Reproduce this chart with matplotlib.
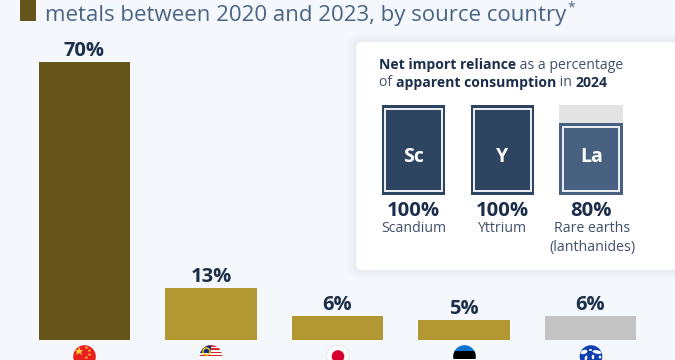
import matplotlib
matplotlib.use("Agg")
import matplotlib.pyplot as plt
from matplotlib.patches import Rectangle, FancyBboxPatch, Circle, Ellipse

plt.rcParams["font.family"] = "Open Sans"

values = [70, 13, 6, 5, 6]
bar_colors = ["#66551b", "#b29832", "#b29832", "#b29832", "#c3c3c3"]
metal_symbols = ["Sc", "Y", "La"]
metal_shares = [100, 100, 80]
metal_names = ["Scandium", "Yttrium", "Rare earths\n(lanthanides)"]
metal_colors = ["#2d4560", "#2d4560", "#486180"]

BG = "#f4f7fb"
NAVY = "#1b2e4a"
GREY = "#3f5068"
W, H = 675, 360
fig = plt.figure(figsize=(6.75, 3.6), dpi=100, facecolor=BG)

ov = fig.add_axes([0, 0, 1, 1], zorder=3)
ov.set_xlim(0, W); ov.set_ylim(H, 0); ov.axis("off")

# bars
ax = fig.add_axes([0, 20 / H, 1, 1 - 20 / H], zorder=1)
ax.set_facecolor("none")
ax.axis("off")
ax.set_xlim(-84.5 / 126.5, (675 - 84.5) / 126.5)
ax.set_ylim(0, 340 / 3.97)
x = list(range(len(values)))
ax.bar(x, values, width=0.72, color=bar_colors)
for xi, v in zip(x, values):
    ax.annotate(f"{v}%", (xi, v), xytext=(0, 1), textcoords="offset points",
                ha="center", va="bottom", fontsize=14.5, fontweight="bold", color=NAVY)

# title
ov.add_patch(Rectangle((20, -5), 16, 26, color="#66551b", lw=0))
ov.text(45, 15, "metals between 2020 and 2023, by source country", fontsize=16,
        color="#4a6484", ha="left", va="center")
ov.text(567, 8, "*", fontsize=10, color="#4a6484", ha="left", va="center")

# panel with soft shadow
for grow, a in [(9, 0.10), (6, 0.14), (3, 0.2), (1, 0.3)]:
    ov.add_patch(FancyBboxPatch((356 - grow, 42 - grow), 340 + grow, 228 + 2 * grow,
                                boxstyle=f"round,pad=0,rounding_size={6 + grow}",
                                fc="#dfe5ec", ec="none", alpha=a))
ov.add_patch(FancyBboxPatch((356, 42), 340, 228, boxstyle="round,pad=0,rounding_size=6",
                            fc="white", ec="none"))


def runs(px, py, parts, size=10.1):
    r = fig.canvas.get_renderer()
    for txt, bold in parts:
        w = "bold" if bold else "normal"
        ov.text(px, py, txt, fontsize=size, color=NAVY if bold else GREY,
                fontweight=w, va="center", ha="left")
        probe = ov.text(0, 0, txt, fontsize=size, fontweight=w, alpha=0)
        px += probe.get_window_extent(r).width
        probe.remove()


runs(379, 65.5, [("Net import reliance", True), ("\u00a0as a percentage", False)])
runs(379, 83, [("of\u00a0", False), ("apparent consumption", True), ("\u00a0in\u00a0", False), ("2024", True)])

left = [381.7, 470.7, 559.4]
bw, top, bottom = 63.6, 105, 195
for lx, sym, share, name, col in zip(left, metal_symbols, metal_shares, metal_names, metal_colors):
    full = bottom - top
    h = full * share / 100
    y0 = bottom - h
    if share < 100:
        ov.add_patch(Rectangle((lx, top), bw, full - h, fc="#e3e3e3", lw=0))
    ov.add_patch(Rectangle((lx, y0), bw, h, fc=col, lw=0))
    ov.add_patch(Rectangle((lx + 3.6, y0 + 3.6), bw - 7.2, h - 7.2, fc="none", ec="#eef1f5", lw=1.4))
    ov.text(lx + bw / 2, 157.5, sym, color="white", fontsize=14, fontweight="bold", ha="center", va="center")
    ov.text(lx + bw / 2, 210.5, f"{share}%", color=NAVY, fontsize=14.6, fontweight="bold", ha="center", va="center")
    ov.text(lx + bw / 2 + (1 if "\n" in name else 0), 238 if "\n" in name else 229, name, color=GREY,
            fontsize=10.2, ha="center", va="center", linespacing=1.3)


# flags
def disc(cx, cy=356.5, r=11.3):
    return Circle((cx, cy), r, transform=ov.transData)


def clipped(p, cx):
    ov.add_patch(p)
    p.set_clip_path(disc(cx))


centers = [84.5, 211, 338, 464.5, 591]
clipped(Rectangle((60, 340), 50, 25, fc="#e8201f", lw=0), centers[0])
ov.plot([78.5], [351], marker="*", ms=6.5, color="#ffd83a", mew=0)
for dx, dy in [(7.5, -4), (10, -1), (10, 3), (7.5, 6)]:
    ov.plot([78.5 + dx], [351 + dy], marker="*", ms=2.6, color="#ffd83a", mew=0)

clipped(Rectangle((195, 340), 35, 25, fc="white", lw=0), centers[1])
for i in range(0, 8, 2):
    clipped(Rectangle((195, 345.2 + i * 1.6), 35, 1.6, fc="#d8232a", lw=0), centers[1])
clipped(Rectangle((195, 340), 16, 12.5, fc="#10307f", lw=0), centers[1])
ov.plot([206], [351], marker="o", ms=5, mfc="none", mec="#f5c518", mew=1.1)

clipped(Rectangle((320, 340), 40, 25, fc="white", ec="none"), centers[2])
ov.add_patch(Circle((centers[2], 356.5), 11.3, fc="none", ec="#e4e4e4", lw=0.6))
ov.add_patch(Circle((centers[2], 356.5), 6.3, fc="#d7002e", lw=0))

clipped(Rectangle((450, 340), 30, 10.5, fc="#0a72cf", lw=0), centers[3])
clipped(Rectangle((450, 350.5), 30, 8, fc="#000000", lw=0), centers[3])
clipped(Rectangle((450, 358.5), 30, 8, fc="#ffffff", lw=0), centers[3])

clipped(Rectangle((575, 340), 35, 25, fc="#0f3fb0", lw=0), centers[4])
for px, py, ew, eh, ang in [(584, 352, 7, 4, -20), (590.5, 350, 3, 2, 0), (597, 352, 9, 3.5, 10),
                            (593, 357, 2.5, 4.5, 0), (586, 358, 2.5, 5, 15), (600, 357, 2.5, 3, 0)]:
    ov.add_patch(Ellipse((px, py), ew, eh, angle=ang, fc="white", lw=0))

fig.savefig("out.png", dpi=100, facecolor=BG)
